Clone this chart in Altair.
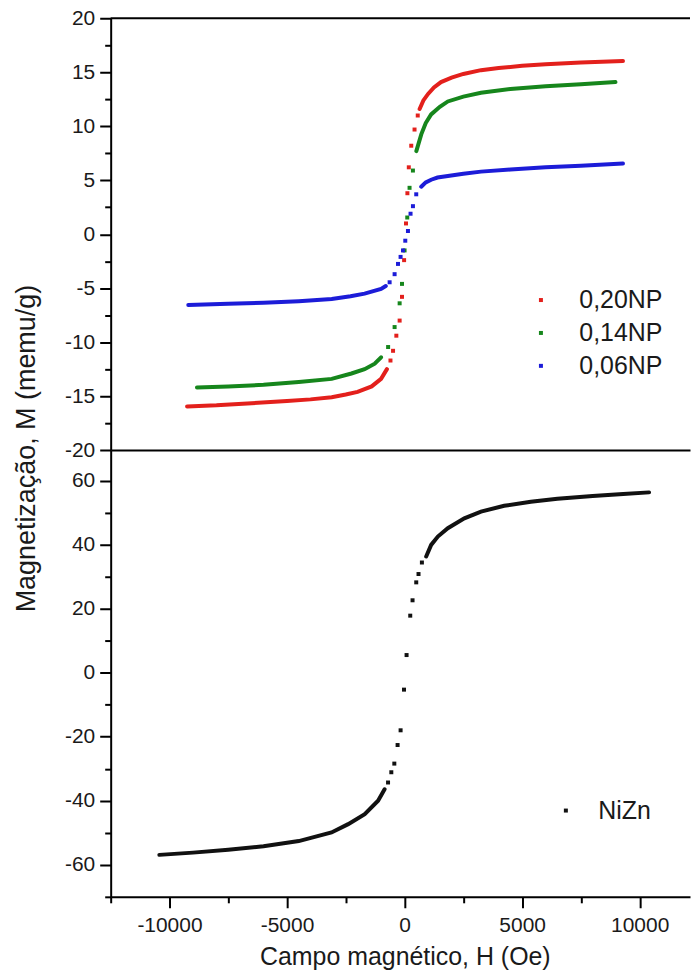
import altair as alt
import pandas as pd

FONT = "Liberation Sans"

# ---------------- data ----------------
series_top = ["0,20NP", "0,14NP", "0,06NP"]
colors_top = ["#e3201c", "#16861c", "#1c1cd8"]

# 0,20NP : saturation branches (dense points -> continuous trace) and isolated steep points
r_neg_H = [-9250, -8000, -6500, -5000, -4000, -3100, -2500, -2000, -1400, -1000, -750]
r_neg_M = [-15.95, -15.85, -15.65, -15.45, -15.3, -15.1, -14.85, -14.6, -14.1, -13.4, -12.5]
r_dot_H = [-600, -490, -350, -210, -110, -20, 60, 120, 180, 284, 424, 560]
r_dot_M = [-11.7, -10.8, -9.4, -8.0, -5.8, -2.4, 1.0, 3.8, 6.2, 8.2, 9.7, 11.0]
r_pos_H = [640, 800, 1000, 1250, 1550, 2000, 2500, 3250, 4000, 5000, 6000, 7500, 9290]
r_pos_M = [11.6, 12.4, 13.0, 13.6, 14.1, 14.5, 14.85, 15.2, 15.4, 15.6, 15.75, 15.9, 16.05]

# 0,14NP
g_neg_H = [-8830, -7500, -6000, -4500, -3100, -2260, -1700, -1270, -1000]
g_neg_M = [-14.2, -14.1, -13.95, -13.7, -13.4, -12.9, -12.5, -12.0, -11.4]
g_dot_H = [-700, -424, -210, -110, 0, 114, 212, 355]
g_dot_M = [-10.45, -8.6, -6.4, -4.6, -1.5, 1.55, 4.3, 5.9]
g_pos_H = [500, 710, 900, 1130, 1500, 1840, 2500, 3250, 4500, 6000, 7500, 8970]
g_pos_M = [7.7, 9.25, 10.3, 11.1, 11.8, 12.3, 12.75, 13.1, 13.45, 13.7, 13.9, 14.1]

# 0,06NP
b_neg_H = [-9200, -7500, -6000, -4500, -3100, -2300, -1700, -1000, -800]
b_neg_M = [-6.55, -6.45, -6.35, -6.2, -6.0, -5.75, -5.5, -5.06, -4.8]
b_dot_H = [-636, -424, -280, -170, -68, 30, 144, 254, 356, 496]
b_dot_M = [-4.45, -3.7, -2.75, -2.1, -1.5, -0.6, 0.3, 1.9, 2.6, 3.7]
b_pos_H = [708, 900, 1130, 1400, 1840, 2500, 3250, 4500, 6000, 7500, 9290]
b_pos_M = [4.4, 4.8, 5.05, 5.25, 5.4, 5.6, 5.8, 6.0, 6.2, 6.35, 6.55]

# NiZn
n_neg_H = [-10430, -9000, -7500, -6000, -4500, -3106, -2398, -1695, -1127, -850]
n_neg_M = [-56.9, -56.2, -55.3, -54.2, -52.6, -49.9, -47.3, -44.2, -40.0, -36.4]
n_dot_H = [-703, -564, -436, -297, -169, -25, 85, 241, 339, 496, 593, 737]
n_dot_M = [-34.3, -31.1, -28.4, -22.6, -18.0, -5.3, 5.5, 17.8, 22.6, 28.2, 30.8, 34.4]
n_pos_H = [919, 1131, 1415, 1839, 2542, 3250, 4237, 5370, 6500, 8000, 9300, 10400]
n_pos_M = [36.3, 39.9, 42.5, 45.1, 48.2, 50.3, 52.1, 53.4, 54.3, 55.2, 55.8, 56.3]

# axis ticks (majors labelled, minors unlabelled)
top_y_ticks = [-20, -17.5, -15, -12.5, -10, -7.5, -5, -2.5, 0, 2.5, 5, 7.5, 10, 12.5, 15, 17.5, 20]
bot_y_ticks = [-70, -60, -50, -40, -30, -20, -10, 0, 10, 20, 30, 40, 50, 60]
x_ticks = [-12500, -10000, -7500, -5000, -2500, 0, 2500, 5000, 7500, 10000]

H_DOMAIN = [-12500, 12140]
TOP_DOMAIN = [-20, 20]
BOT_DOMAIN = [-70, 69.5]
W = 581
H_TOP = 433
H_BOT = 448


def build(rows_spec):
    lines, dots = [], []
    for name, nH, nM, dH, dM, pH, pM in rows_spec:
        for h, m in zip(nH, nM):
            lines.append({"H": h, "M": m, "serie": name, "ramo": name + "-"})
        for h, m in zip(pH, pM):
            lines.append({"H": h, "M": m, "serie": name, "ramo": name + "+"})
        for h, m in zip(dH, dM):
            dots.append({"H": h, "M": m, "serie": name})
    return pd.DataFrame(lines), pd.DataFrame(dots)


top_lines, top_dots = build([
    (series_top[0], r_neg_H, r_neg_M, r_dot_H, r_dot_M, r_pos_H, r_pos_M),
    (series_top[1], g_neg_H, g_neg_M, g_dot_H, g_dot_M, g_pos_H, g_pos_M),
    (series_top[2], b_neg_H, b_neg_M, b_dot_H, b_dot_M, b_pos_H, b_pos_M),
])
bot_lines, bot_dots = build([("NiZn", n_neg_H, n_neg_M, n_dot_H, n_dot_M, n_pos_H, n_pos_M)])

xscale = alt.Scale(domain=H_DOMAIN, nice=False, zero=False)

top_x_axis = alt.Axis(orient="bottom", labels=False, ticks=False, domain=True, title=None, grid=False)
bot_x_axis = alt.Axis(
    orient="bottom", values=x_ticks, tickSize=11,
    tickDash={"condition": {"test": "datum.value % 5000 !== 0", "value": [6, 40]}, "value": [1, 0]},
    labelExpr="datum.value % 5000 === 0 ? '' + datum.value : ''",
    labelPadding=7, labelFlush=False, labelOverlap=False,
    title="Campo magnético, H (Oe)", titleFontSize=25, titlePadding=9, titleX=295,
    grid=False,
)
top_y_axis = alt.Axis(
    values=top_y_ticks, tickSize=11,
    tickDash={"condition": {"test": "datum.value % 5 !== 0", "value": [6, 40]}, "value": [1, 0]},
    labelExpr="datum.value % 5 === 0 ? '' + datum.value : ''",
    labelPadding=5, labelFlush=False, labelOverlap=False,
    title="Magnetização, M (memu/g)", titleFontSize=27, titleAngle=270, titleAlign="center",
    titleBaseline="alphabetic", titleX=-76, titleY=431, grid=False,
)
bot_y_axis = alt.Axis(
    values=bot_y_ticks, tickSize=11,
    tickDash={"condition": {"test": "datum.value % 20 !== 0", "value": [6, 40]}, "value": [1, 0]},
    labelExpr="datum.value % 20 === 0 ? '' + datum.value : ''",
    labelPadding=5, labelFlush=False, labelOverlap=False, title=None, grid=False,
)

top_cscale = alt.Scale(domain=series_top, range=colors_top)
top_legend = alt.Legend(title=None, orient="none", legendX=419, legendY=270, symbolType="square",
                        symbolSize=16, labelFontSize=25, labelFont=FONT, labelColor="#1a1a1a",
                        labelOffset=26, rowPadding=7, padding=0, symbolStrokeWidth=0)
bot_cscale = alt.Scale(domain=["NiZn"], range=["#111111"])
bot_legend = alt.Legend(title=None, orient="none", legendX=444, legendY=349, symbolType="square",
                        symbolSize=16, labelFontSize=25, labelFont=FONT, labelColor="#1a1a1a",
                        labelOffset=20, padding=0, symbolStrokeWidth=0)


def panel(lines_df, dots_df, yscale_dom, x_axis, y_axis, cscale, legend, height, frame_top):
    yscale = alt.Scale(domain=yscale_dom, nice=False, zero=False)
    x = alt.X("H:Q", scale=xscale, axis=x_axis)
    y = alt.Y("M:Q", scale=yscale, axis=y_axis)
    dots = alt.Chart(dots_df).mark_square(size=16, opacity=1).encode(
        x=x, y=y, color=alt.Color("serie:N", scale=cscale, legend=legend)
    )
    lines = alt.Chart(lines_df).mark_line(strokeWidth=4, strokeCap="round").encode(
        x=x, y=y, color=alt.Color("serie:N", scale=cscale, legend=None), detail="ramo:N"
    )
    layers = [dots, lines]
    if frame_top:
        fr = pd.DataFrame({"H0": [H_DOMAIN[0]], "H1": [H_DOMAIN[1]], "M": [yscale_dom[1]]})
        rule = alt.Chart(fr).mark_rule(color="black", strokeWidth=2).encode(
            x=alt.X("H0:Q", scale=xscale, axis=x_axis), x2="H1:Q",
            y=alt.Y("M:Q", scale=yscale, axis=y_axis),
        )
        layers.append(rule)
    return alt.layer(*layers).properties(width=W, height=height)


top = panel(top_lines, top_dots, TOP_DOMAIN, top_x_axis, top_y_axis, top_cscale, top_legend, H_TOP, True)
bot = panel(bot_lines, bot_dots, BOT_DOMAIN, bot_x_axis, bot_y_axis, bot_cscale, bot_legend, H_BOT, False)

chart = (
    alt.vconcat(top, bot, spacing=0, bounds="flush")
    .resolve_scale(color="independent")
    .properties(padding={"left": 13, "top": 6, "right": 0, "bottom": 5}, background="white")
    .configure_view(stroke=None)
    .configure_axis(
        domainColor="black", domainWidth=2, tickColor="black", tickWidth=2,
        labelFont=FONT, labelFontSize=21, labelColor="#1a1a1a",
        titleFont=FONT, titleColor="#1a1a1a", titleFontWeight="normal",
    )
)

chart.save("out.html", embed_options={"renderer": "svg", "actions": False})
